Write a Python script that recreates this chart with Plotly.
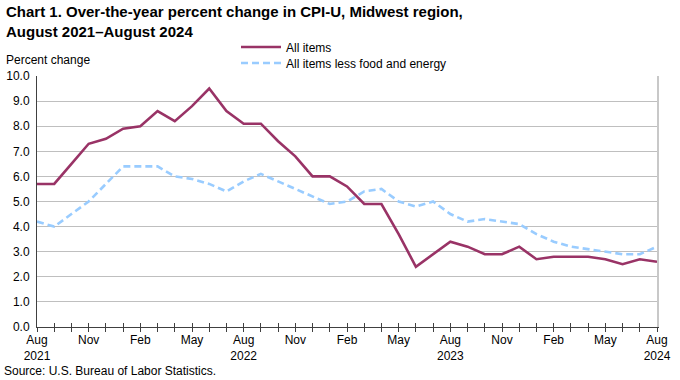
import plotly.graph_objects as go

months = ["Aug 2021", "Sep 2021", "Oct 2021", "Nov 2021", "Dec 2021",
          "Jan 2022", "Feb 2022", "Mar 2022", "Apr 2022", "May 2022", "Jun 2022", "Jul 2022",
          "Aug 2022", "Sep 2022", "Oct 2022", "Nov 2022", "Dec 2022",
          "Jan 2023", "Feb 2023", "Mar 2023", "Apr 2023", "May 2023", "Jun 2023", "Jul 2023",
          "Aug 2023", "Sep 2023", "Oct 2023", "Nov 2023", "Dec 2023",
          "Jan 2024", "Feb 2024", "Mar 2024", "Apr 2024", "May 2024", "Jun 2024", "Jul 2024",
          "Aug 2024"]

all_items = [5.7, 5.7, 6.5, 7.3, 7.5, 7.9, 8.0, 8.6, 8.2, 8.8, 9.5, 8.6,
             8.1, 8.1, 7.4, 6.8, 6.0, 6.0, 5.6, 4.9, 4.9, 3.7, 2.4, 2.9,
             3.4, 3.2, 2.9, 2.9, 3.2, 2.7, 2.8, 2.8, 2.8, 2.7, 2.5, 2.7, 2.6]

core = [4.2, 4.0, 4.5, 5.0, 5.7, 6.4, 6.4, 6.4, 6.0, 5.9, 5.7, 5.4,
        5.8, 6.1, 5.8, 5.5, 5.2, 4.9, 5.0, 5.4, 5.5, 5.0, 4.8, 5.0,
        4.5, 4.2, 4.3, 4.2, 4.1, 3.7, 3.4, 3.2, 3.1, 3.0, 2.9, 2.9, 3.2]

tick_labels = ["Aug<br>2021", "", "", "Nov", "", "", "Feb", "", "", "May", "", "",
               "Aug<br>2022", "", "", "Nov", "", "", "Feb", "", "", "May", "", "",
               "Aug<br>2023", "", "", "Nov", "", "", "Feb", "", "", "May", "", "",
               "Aug<br>2024"]

y_ticks = [i * 1.0 for i in range(11)]
y_tick_text = [f"{v:.1f}" for v in y_ticks]

FONT = "Liberation Sans, Arial, sans-serif"
WINE = "#993366"
LIGHTBLUE = "#99CCFF"

W, H = 680, 380
ML, MR, MT, MB = 37, 23, 76, 53
PH = H - MT - MB
PW = W - ML - MR


def py(pix):
    """paper y for a pixel row"""
    return (H - MB - pix) / PH


def px(pix):
    return (pix - ML) / PW


fig = go.Figure()
fig.add_trace(go.Scatter(x=months, y=all_items, mode="lines", name="All items",
                         line=dict(color=WINE, width=2.6), legend="legend"))
fig.add_trace(go.Scatter(x=months, y=core, mode="lines", name="All items less food and energy",
                         line=dict(color=LIGHTBLUE, width=2.6, dash="7px,4px"), legend="legend2"))
# helper trace for inside ticks and right border axis
fig.add_trace(go.Scatter(x=months, y=[None] * len(months), xaxis="x2", yaxis="y2",
                         mode="lines", showlegend=False, hoverinfo="skip"))

legend_common = dict(xanchor="left", yanchor="middle", bgcolor="rgba(0,0,0,0)",
                     font=dict(size=12, color="#000000"), itemwidth=40)

fig.update_layout(
    width=W, height=H,
    margin=dict(l=ML, r=MR, t=MT, b=MB, autoexpand=False),
    paper_bgcolor="white", plot_bgcolor="white",
    font=dict(family=FONT, size=12, color="#000000"),
    xaxis=dict(type="category", categoryorder="array", categoryarray=months,
               range=[0, len(months) - 1], automargin=False,
               tickmode="array", tickvals=months, ticktext=tick_labels,
               ticks="outside", ticklen=4, tickcolor="#404040", tickwidth=1,
               showline=True, linecolor="#404040", linewidth=1,
               showgrid=False, zeroline=False, tickangle=0, ticklabelstandoff=-2,
               tickfont=dict(size=12, color="#000000")),
    xaxis2=dict(type="category", categoryorder="array", categoryarray=months,
                overlaying="x", anchor="y", side="bottom", automargin=False,
                range=[0, len(months) - 1],
                tickmode="array", tickvals=months, ticktext=[""] * len(months),
                ticks="inside", ticklen=4, tickcolor="#404040", tickwidth=1,
                showline=False, showgrid=False, zeroline=False, showticklabels=False),
    yaxis=dict(range=[0, 10], tickmode="array", tickvals=y_ticks, ticktext=y_tick_text,
               showline=True, linecolor="#404040", linewidth=1, automargin=False,
               showgrid=True, gridcolor="#BFBFBF", gridwidth=1,
               zeroline=False, ticks="", ticklabelstandoff=4,
               tickfont=dict(size=12, color="#000000")),
    yaxis2=dict(range=[0, 10], overlaying="y", side="right", anchor="x", automargin=False,
                showline=True, linecolor="#C8C8C8", linewidth=2,
                showgrid=False, zeroline=False, showticklabels=False, ticks=""),
    legend=dict(x=px(236), y=py(47), **legend_common),
    legend2=dict(x=px(236), y=py(63), **legend_common),
    showlegend=True,
    annotations=[
        dict(text="<b>Chart 1. Over-the-year percent change in CPI-U, Midwest region,<br>August 2021\u2013August 2024</b>",
             xref="paper", yref="paper", x=px(4), y=py(1), xanchor="left", yanchor="top",
             align="left", showarrow=False, font=dict(size=15, color="#000000")),
        dict(text="Percent change", xref="paper", yref="paper", x=px(4), y=py(59.5),
             xanchor="left", yanchor="middle", showarrow=False, font=dict(size=12)),
        dict(text="Source: U.S. Bureau of Labor Statistics.", xref="paper", yref="paper",
             x=px(2), y=py(371), xanchor="left", yanchor="middle", showarrow=False,
             font=dict(size=12)),
    ],
)

fig.write_html("out.html", config={"displayModeBar": False},
               post_script="document.body.style.margin='0';document.body.style.overflow='hidden';")
